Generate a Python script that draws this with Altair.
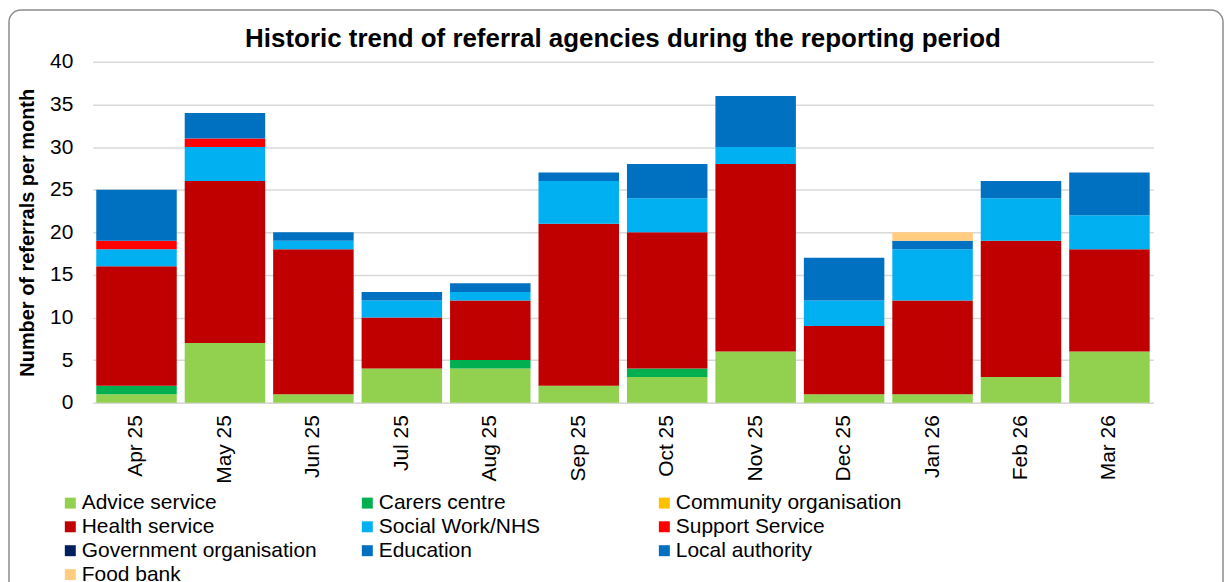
import altair as alt
import pandas as pd

months = ["Apr 25", "May 25", "Jun 25", "Jul 25", "Aug 25", "Sep 25",
          "Oct 25", "Nov 25", "Dec 25", "Jan 26", "Feb 26", "Mar 26"]

categories = ["Advice service", "Carers centre", "Community organisation",
              "Health service", "Social Work/NHS", "Support Service",
              "Government organisation", "Education", "Local authority",
              "Food bank"]

colors = ["#92D050", "#00B050", "#FFC000", "#C00000", "#00B0F0", "#FF0000",
          "#002060", "#0070C0", "#0070C0", "#FFCC80"]

advice = [1, 7, 1, 4, 4, 2, 3, 6, 1, 1, 3, 6]
carers = [1, 0, 0, 0, 1, 0, 1, 0, 0, 0, 0, 0]
community = [0, 0, 0, 0, 0, 0, 0, 0, 0, 0, 0, 0]
health = [14, 19, 17, 6, 7, 19, 16, 22, 8, 11, 16, 12]
social_work = [2, 4, 1, 2, 1, 5, 4, 2, 3, 6, 5, 4]
support = [1, 1, 0, 0, 0, 0, 0, 0, 0, 0, 0, 0]
government = [0, 0, 0, 0, 0, 0, 0, 0, 0, 0, 0, 0]
education = [0, 0, 0, 0, 0, 0, 0, 0, 0, 0, 0, 0]
local_authority = [6, 3, 1, 1, 1, 1, 4, 6, 5, 1, 2, 5]
food_bank = [0, 0, 0, 0, 0, 0, 0, 0, 0, 1, 0, 0]

series = [advice, carers, community, health, social_work, support,
          government, education, local_authority, food_bank]

rows = []
for ci, (cat, vals) in enumerate(zip(categories, series)):
    for m, v in zip(months, vals):
        if v > 0:
            rows.append({"month": m, "agency": cat, "value": v, "idx": ci})
df = pd.DataFrame(rows)

FONT = "Liberation Sans"
W, H = 1064, 342

bars = alt.Chart(df).mark_bar().encode(
    x=alt.X("month:N", sort=months,
            scale=alt.Scale(paddingInner=0.09, paddingOuter=0.04),
            axis=alt.Axis(title=None, labelAngle=-90, labelFontSize=21,
                          labelPadding=12, ticks=False, domainColor="#d9d9d9",
                          domainWidth=1.5, labelColor="#000000", labelFont=FONT)),
    y=alt.Y("value:Q", stack="zero",
            scale=alt.Scale(domain=[0, 40]),
            axis=alt.Axis(title="Number of referrals per month", values=list(range(0, 41, 5)),
                          titleFontSize=20, titleFont=FONT, titleFontWeight="bold",
                          titleColor="#000000", titlePadding=12,
                          labelFontSize=21, labelFont=FONT, labelColor="#000000",
                          labelPadding=20, ticks=False, domain=False,
                          gridColor="#d9d9d9", gridWidth=1.5)),
    color=alt.Color("agency:N",
                    scale=alt.Scale(domain=categories, range=colors),
                    legend=alt.Legend(title=None, orient="none", legendX=-33, legendY=432,
                                      direction="horizontal",
                                      columns=3, gridAlign="all", columnPadding=40,
                                      rowPadding=2, symbolType="square", symbolSize=121,
                                      symbolStrokeWidth=0, labelFontSize=21, labelFont=FONT,
                                      labelColor="#000000", labelLimit=400, labelOffset=1)),
    order=alt.Order("idx:Q", sort="ascending"),
)

frame = alt.Chart(pd.DataFrame({"k": [0]})).mark_rect(
    fill=None, stroke="#8c8c8c", strokeWidth=1.5, cornerRadius=12
).encode(
    x=alt.value(-84), x2=alt.value(W + 70),
    y=alt.value(-52), y2=alt.value(H + 200),
)

chart = alt.layer(frame, bars).properties(
    width=W, height=H, padding=0,
    title=alt.TitleParams("Historic trend of referral agencies during the reporting period",
                          font=FONT, fontSize=26, fontWeight="bold", color="#000000",
                          anchor="middle", offset=-43),
).configure_view(stroke=None)

chart.save("out.html", embed_options={"renderer": "svg", "actions": False})
